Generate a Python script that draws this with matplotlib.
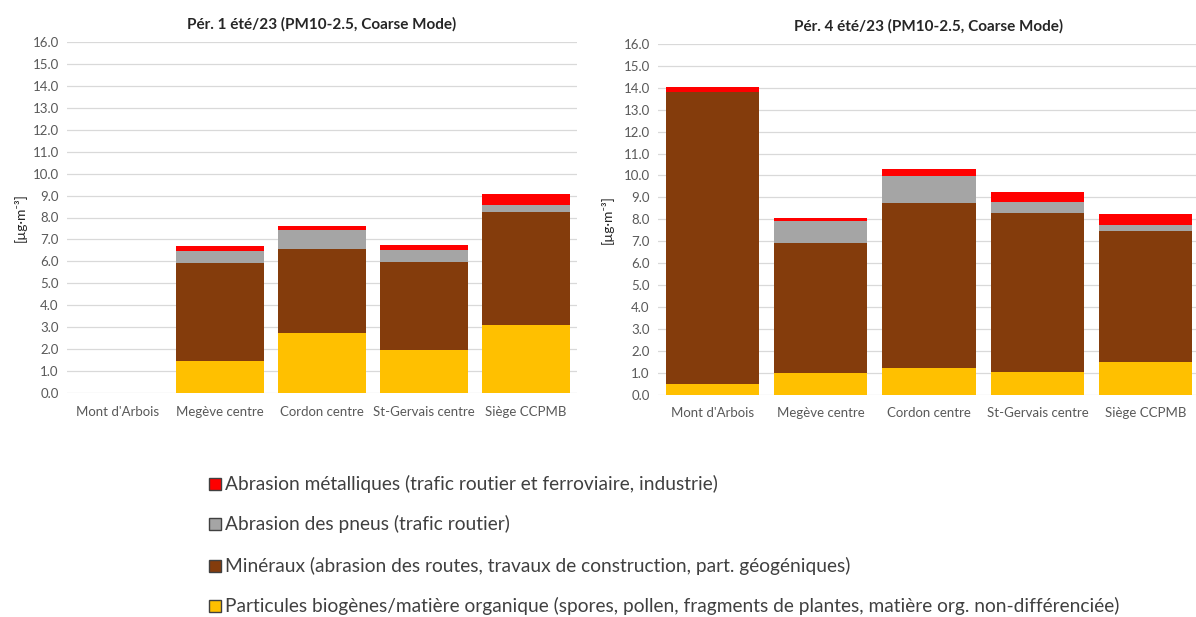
import matplotlib
matplotlib.use("Agg")
import matplotlib.pyplot as plt
from matplotlib.patches import Rectangle
import numpy as np

plt.rcParams["font.family"] = ["Lato", "DejaVu Sans"]

# Sites
sites = ["Mont d'Arbois", "Megève centre", "Cordon centre", "St-Gervais centre", "Siège CCPMB"]

# Période 1 (µg/m3) - pas de données au Mont d'Arbois
p1_biogenes = [0.0, 1.47, 2.74, 1.96, 3.12]
p1_mineraux = [0.0, 4.45, 3.83, 4.03, 5.12]
p1_pneus = [0.0, 0.57, 0.84, 0.53, 0.35]
p1_metal = [0.0, 0.20, 0.21, 0.23, 0.46]

# Période 4 (µg/m3)
p4_biogenes = [0.49, 0.96, 1.22, 1.03, 1.48]
p4_mineraux = [13.32, 5.96, 7.53, 7.26, 5.97]
p4_pneus = [0.0, 0.99, 1.24, 0.50, 0.31]
p4_metal = [0.23, 0.15, 0.31, 0.44, 0.48]

titles = ["Pér. 1 été/23 (PM10-2.5, Coarse Mode)", "Pér. 4 été/23 (PM10-2.5, Coarse Mode)"]

legend_labels = [
    "Abrasion métalliques (trafic routier et ferroviaire, industrie)",
    "Abrasion des pneus (trafic routier)",
    "Minéraux (abrasion des routes, travaux de construction, part. géogéniques)",
    "Particules biogènes/matière organique (spores, pollen, fragments de plantes, matière org. non-différenciée)",
]

c_bio = "#FFC000"
c_min = "#843C0C"
c_pneu = "#A5A5A5"
c_metal = "#FF0000"
grey_txt = "#595959"

W, H = 1196, 617
fig = plt.figure(figsize=(W / 100, H / 100), dpi=100)


def px_axes(x0, x1, ytop, ybot):
    return fig.add_axes([x0 / W, (H - ybot) / H, (x1 - x0) / W, (ybot - ytop) / H])


def draw_panel(ax, title, bio, mine, pneu, metal, ylab_x):
    x = np.arange(len(sites))
    bio = np.array(bio)
    mine = np.array(mine)
    pneu = np.array(pneu)
    metal = np.array(metal)
    w = 0.86
    ax.bar(x, bio, w, color=c_bio, zorder=3)
    ax.bar(x, mine, w, bottom=bio, color=c_min, zorder=3)
    ax.bar(x, pneu, w, bottom=bio + mine, color=c_pneu, zorder=3)
    ax.bar(x, metal, w, bottom=bio + mine + pneu, color=c_metal, zorder=3)

    ax.set_xlim(-0.5, len(sites) - 0.5)
    ax.set_ylim(0, 16)
    ax.set_yticks(np.arange(0, 17, 1))
    ax.set_yticklabels([f"{v:.1f}" for v in range(17)])
    ax.set_xticks(x)
    ax.set_xticklabels(sites)
    ax.tick_params(length=0, colors=grey_txt, labelsize=9.5)
    ax.tick_params(axis="x", pad=9)
    ax.tick_params(axis="y", pad=6)
    ax.grid(axis="y", color="#D9D9D9", linewidth=0.9, zorder=0)
    for s in ax.spines.values():
        s.set_visible(False)
    ax.set_title(title, fontsize=11, fontweight="bold", color="#262626", pad=10)
    ax.text(ylab_x, 0.5, "[µg·m⁻³]", transform=ax.transAxes, rotation=90,
            ha="center", va="center", fontsize=10, color="#262626")


ax1 = px_axes(67, 577, 42, 393)
draw_panel(ax1, titles[0], p1_biogenes, p1_mineraux, p1_pneus, p1_metal, -47 / 510)

ax2 = px_axes(658, 1200, 44, 394.5)
draw_panel(ax2, titles[1], p4_biogenes, p4_mineraux, p4_pneus, p4_metal, -51 / 542)

# Légende en bas
leg_colors = [c_metal, c_pneu, c_min, c_bio]
row_y = [484, 524, 566, 606]
for lab, col, yy in zip(legend_labels, leg_colors, row_y):
    fig.add_artist(Rectangle((209 / W, (H - yy - 6) / H), 12 / W, 12 / H,
                             transform=fig.transFigure, facecolor=col,
                             edgecolor="#404040", linewidth=1.0))
    fig.text(225 / W, (H - yy) / H, lab, ha="left", va="center",
             fontsize=13.8, color="#404040")

fig.savefig("out.png", dpi=100)
